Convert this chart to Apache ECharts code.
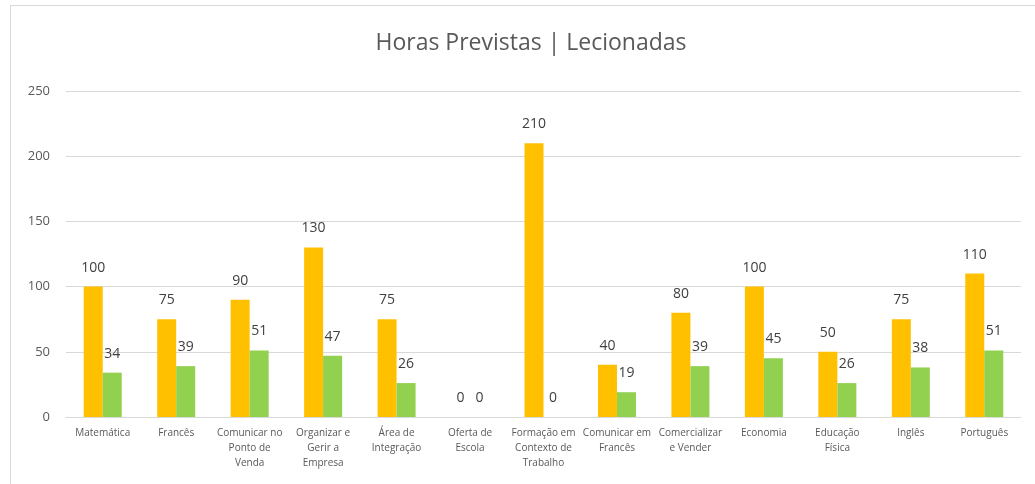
<!DOCTYPE html>
<html>
<head>
<meta charset="utf-8">
<script src="https://cdn.jsdelivr.net/npm/echarts@6/dist/echarts.min.js"></script>
<style>
html,body{margin:0;padding:0;background:#fff;}
#frame{position:absolute;left:10px;top:5px;width:1040px;height:490px;border:1px solid #d9d9d9;box-sizing:border-box;}
#chart{position:absolute;left:0;top:0;width:1035px;height:484px;}
</style>
</head>
<body>
<div id="frame"></div>
<div id="chart"></div>
<script>
const chartTitle = "Horas Previstas | Lecionadas";
const categories = ["Matemática", "Francês", "Comunicar no\nPonto de\nVenda", "Organizar e\nGerir a\nEmpresa", "Área de\nIntegração", "Oferta de\nEscola", "Formação em\nContexto de\nTrabalho", "Comunicar em\nFrancês", "Comercializar\ne Vender", "Economia", "Educação\nFísica", "Inglês", "Português"];
const horasPrevistas = [100, 75, 90, 130, 75, 0, 210, 40, 80, 100, 50, 75, 110];
const horasLecionadas = [34, 39, 51, 47, 26, 0, 0, 19, 39, 45, 26, 38, 51];
const yTicks = {min: 0, max: 250, interval: 50};

const FONT = "'Open Sans', 'Noto Sans', sans-serif";
const chart = echarts.init(document.getElementById('chart'), null, {renderer: 'canvas'});
const labelStyle = {show: true, position: 'top', distance: 12, color: '#404040', fontSize: 14, fontFamily: FONT};
chart.setOption({
  animation: false,
  backgroundColor: 'transparent',
  title: {text: chartTitle, left: 526, textAlign: 'center', top: 27,
    textStyle: {fontFamily: FONT, fontSize: 23, fontWeight: 'normal', color: '#595959'}},
  grid: {left: 66, right: 14, top: 91, bottom: 67, containLabel: false},
  xAxis: {type: 'category', data: categories,
    axisLine: {lineStyle: {color: '#d9d9d9', width: 1}},
    axisTick: {show: false},
    axisLabel: {interval: 0, color: '#595959', fontSize: 10, fontFamily: FONT, lineHeight: 15, margin: 9}},
  yAxis: {type: 'value', min: yTicks.min, max: yTicks.max, interval: yTicks.interval,
    axisLine: {show: false}, axisTick: {show: false},
    axisLabel: {color: '#595959', fontSize: 13, fontFamily: FONT, margin: 16},
    splitLine: {lineStyle: {color: '#d9d9d9', width: 1}}},
  series: [
    {name: 'Horas Previstas', type: 'bar', data: horasPrevistas, barWidth: 19, barGap: '0%',
      itemStyle: {color: '#FFC000'}, label: labelStyle},
    {name: 'Horas Lecionadas', type: 'bar', data: horasLecionadas, barWidth: 19, barGap: '0%',
      itemStyle: {color: '#92D050'}, label: labelStyle}
  ]
});
</script>
</body>
</html>
